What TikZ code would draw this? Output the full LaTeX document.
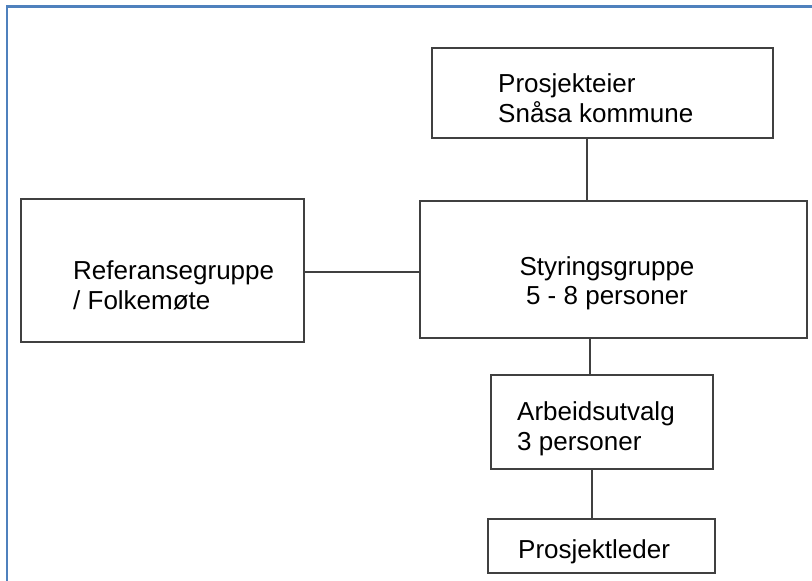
\documentclass[tikz,border=0pt]{standalone}
\usepackage{fontspec}
\setmainfont{Liberation Sans}
\definecolor{frameblue}{RGB}{79,129,189}
\definecolor{boxline}{RGB}{64,64,64}
\begin{document}
\begin{tikzpicture}[x=1pt,y=-1pt,
  orgbox/.style={draw=boxline,line width=1.5pt,rectangle,inner sep=0pt,fill=white},
  lbl/.style={inner sep=0pt,font=\fontsize{26}{29.5}\selectfont,text=black},
  conn/.style={draw=boxline,line width=1.2pt}]
\useasboundingbox (0,0) rectangle (812,581);
\fill[white] (0,0) rectangle (812,581);
% blue frame
\draw[frameblue,line width=2.2pt] (7,581) -- (7,6.5) -- (812,6.5);
% boxes
\node[orgbox,minimum width=341pt,minimum height=90pt] (owner) at (602.5,93) {};
\node[orgbox,minimum width=387pt,minimum height=137pt] (styr) at (613.5,269.5) {};
\node[orgbox,minimum width=283pt,minimum height=143pt] (ref) at (162.5,270.5) {};
\node[orgbox,minimum width=222pt,minimum height=94pt] (arb) at (602,422) {};
\node[orgbox,minimum width=227pt,minimum height=54pt] (leder) at (601.5,546) {};
% texts
\node[lbl,align=left,anchor=west] (ownertxt) at (498,98) {Prosjekteier\\Snåsa kommune};
\node[lbl,align=center] (styrtxt) at (607,283.5) {Styringsgruppe\\5 - 8 personer};
\node[lbl,align=left,anchor=west] (reftxt) at (73,285.5) {Referansegruppe\\/ Folkemøte};
\node[lbl,align=left,anchor=west] (arbtxt) at (517,429) {Arbeidsutvalg\\3 personer};
\node[lbl,anchor=west] (ledertxt) at (518,552) {Prosjektleder};
% connector x positions
\coordinate (c1) at (587,0);
\coordinate (c2) at (590,0);
\coordinate (c3) at (592,0);
\coordinate (c4) at (0,272);
% connectors
\draw[conn] (owner.south -| c1) -- (styr.north -| c1);
\draw[conn] (ref.east |- c4) -- (styr.west |- c4);
\draw[conn] (styr.south -| c2) -- (arb.north -| c2);
\draw[conn] (arb.south -| c3) -- (leder.north -| c3);
\end{tikzpicture}
\end{document}
